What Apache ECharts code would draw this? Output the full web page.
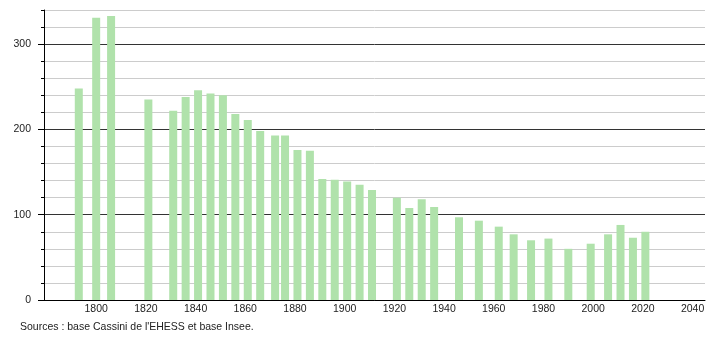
<!DOCTYPE html>
<html>
<head>
<meta charset="utf-8">
<script src="https://cdn.jsdelivr.net/npm/echarts@6/dist/echarts.min.js"></script>
<style>
  html, body { margin: 0; padding: 0; background: #fff; }
  #chart { width: 710px; height: 340px; }
</style>
</head>
<body>
<div id="chart"></div>
<script>
// années des recensements
var years = [1793, 1800, 1806, 1821, 1831, 1836, 1841, 1846, 1851, 1856,
             1861, 1866, 1872, 1876, 1881, 1886, 1891, 1896, 1901, 1906,
             1911, 1921, 1926, 1931, 1936, 1946, 1954, 1962, 1968, 1975,
             1982, 1990, 1999, 2006, 2011, 2016, 2021];
var population = [248, 331, 333, 235, 222, 238, 246, 242, 240, 218,
                  211, 198, 193, 193, 176, 175, 142, 141, 139, 135,
                  129, 120, 108, 118, 109, 97, 93, 86, 77, 70,
                  72, 60, 66, 77, 88, 73, 80];
var xTickLabels = [1800, 1820, 1840, 1860, 1880, 1900, 1920, 1940, 1960, 1980, 2000, 2020, 2040];
var yTickLabels = [0, 100, 200, 300];

var chart = echarts.init(document.getElementById('chart'));

var barData = years.map(function(y, i) {
    return [y, population[i]];
});

var option = {
    animation: false,
    textStyle: { fontFamily: 'Liberation Sans, Arial, sans-serif' },
    grid: { left: 44, right: 5, top: 10, bottom: 40 },
    xAxis: {
        type: 'value',
        min: 1779,
        max: 2045,
        axisLine: { show: true, lineStyle: { color: '#000', width: 1 } },
        axisTick: { show: false },
        splitLine: { show: false },
        axisLabel: {
            customValues: xTickLabels,
            formatter: function(v) { return String(v); },
            color: '#222',
            fontSize: 10.5,
            margin: 4
        }
    },
    yAxis: [{
        // graduations mineures tous les 20, lignes foncées tous les 100
        type: 'value',
        min: 0,
        max: 340,
        interval: 20,
        axisLine: { show: true, lineStyle: { color: '#000' } },
        axisTick: { show: true, length: 3, lineStyle: { color: '#000' } },
        axisLabel: { show: false },
        splitLine: {
            show: true,
            lineStyle: { color: ['#333', '#cccccc', '#cccccc', '#cccccc', '#cccccc'], width: 1 }
        }
    }, {
        // étiquettes et grandes graduations
        type: 'value',
        position: 'left',
        min: 0,
        max: 340,
        interval: 20,
        axisLine: { show: false },
        axisTick: { show: true, length: 6, customValues: yTickLabels, lineStyle: { color: '#000' } },
        axisLabel: {
            customValues: yTickLabels,
            color: '#222',
            fontSize: 10.5,
            margin: 13
        },
        splitLine: { show: false }
    }],
    series: [{
        type: 'bar',
        yAxisIndex: 0,
        barWidth: 8,
        itemStyle: { color: '#b0e2ab' },
        data: barData
    }],
    graphic: [{
        type: 'text',
        left: 20,
        top: 322,
        style: {
            text: "Sources : base Cassini de l'EHESS et base Insee.",
            fill: '#222',
            font: '10.5px Liberation Sans, Arial, sans-serif'
        }
    }]
};

chart.setOption(option);
</script>
</body>
</html>
